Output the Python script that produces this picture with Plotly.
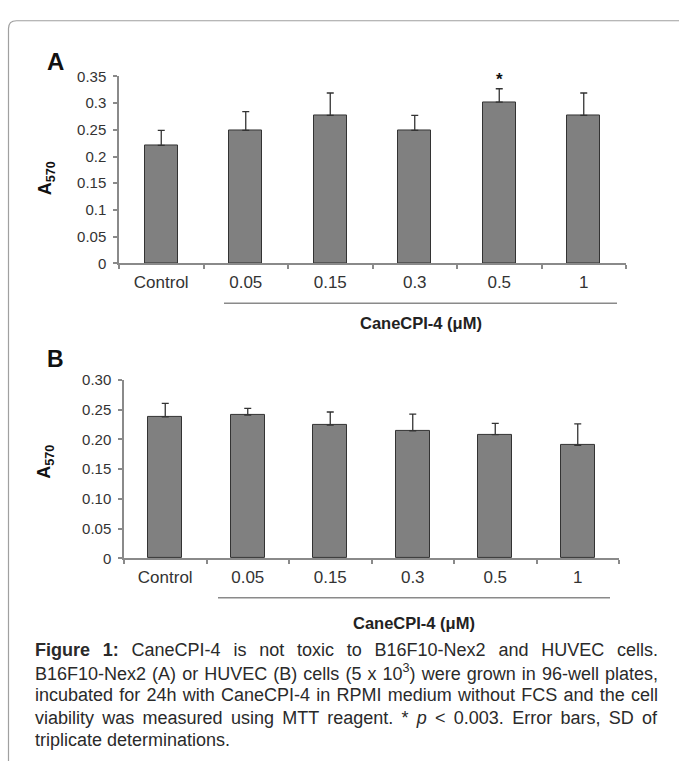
import plotly.graph_objects as go

# ---------------- data ----------------
categories = ["Control", "0.05", "0.15", "0.3", "0.5", "1"]
a_means = [0.221, 0.249, 0.277, 0.249, 0.302, 0.277]
a_sd = [0.028, 0.035, 0.042, 0.028, 0.025, 0.042]
b_means = [0.238, 0.241, 0.224, 0.2145, 0.208, 0.190]
b_sd = [0.0225, 0.011, 0.022, 0.028, 0.019, 0.036]
a_ticks = [0, 0.05, 0.1, 0.15, 0.2, 0.25, 0.3, 0.35]
a_ticktext = ["0", "0.05", "0.1", "0.15", "0.2", "0.25", "0.3", "0.35"]
b_ticks = [0, 0.05, 0.10, 0.15, 0.20, 0.25, 0.30]
b_ticktext = ["0", "0.05", "0.10", "0.15", "0.20", "0.25", "0.30"]
star_label = "*"
star_category = "0.5"
x_group_label = "CaneCPI-4 (\u03bcM)"
caption_lines = [
    "<b>Figure 1:</b> CaneCPI-4 is not toxic to B16F10-Nex2 and HUVEC cells.",
    "B16F10-Nex2 (A) or HUVEC (B) cells (5 x 10<sup>3</sup>) were grown in 96-well plates,",
    "incubated for 24h with CaneCPI-4 in RPMI medium without FCS and the cell",
    "viability was measured using MTT reagent. * <i>p</i> &lt; 0.003. Error bars, SD of",
    "triplicate determinations.",
]

W, H = 679, 769


def px(x):
    return x / W


def py(y):
    return 1 - y / H


FONT = "Liberation Sans, Arial, sans-serif"
BAR_COL = "#808080"
EDGE = "#333333"
AX = "#8a8a8a"
TXT = "#333333"

fig = go.Figure()

fig.add_trace(go.Bar(
    x=categories, y=a_means, width=0.39,
    marker=dict(color=BAR_COL, line=dict(color=EDGE, width=1)),
    error_y=dict(type="data", array=a_sd, arrayminus=[0] * len(a_sd), symmetric=False,
                 color=EDGE, thickness=1.3, width=3.5),
    xaxis="x", yaxis="y", showlegend=False, hoverinfo="skip",
))
fig.add_trace(go.Bar(
    x=categories, y=b_means, width=0.41,
    marker=dict(color=BAR_COL, line=dict(color=EDGE, width=1)),
    error_y=dict(type="data", array=b_sd, arrayminus=[0] * len(b_sd), symmetric=False,
                 color=EDGE, thickness=1.3, width=3.5),
    xaxis="x2", yaxis="y2", showlegend=False, hoverinfo="skip",
))

xcommon = dict(type="category", range=[-0.5, 5.5], showline=True, linecolor=AX, linewidth=1.5,
               ticks="outside", tickson="boundaries", ticklen=4, tickcolor=AX, tickwidth=1.5,
               showgrid=False, zeroline=False, fixedrange=True,
               tickfont=dict(family=FONT, size=17, color=TXT), ticklabelstandoff=3)
ycommon = dict(showline=True, linecolor=AX, linewidth=1.5, ticks="outside", ticklen=4,
               tickcolor=AX, tickwidth=1.5, showgrid=False, zeroline=False, fixedrange=True,
               tickfont=dict(family=FONT, size=15, color=TXT), ticklabelstandoff=4)

fig.update_layout(
    width=W, height=H, margin=dict(l=0, r=0, t=0, b=0),
    paper_bgcolor="white", plot_bgcolor="white", bargap=0,
    xaxis=dict(domain=[px(119), px(626)], anchor="y", **xcommon),
    yaxis=dict(domain=[py(260), py(69)], anchor="x", range=[0, 0.35],
               tickvals=a_ticks, ticktext=a_ticktext, **ycommon),
    xaxis2=dict(domain=[px(124), px(619)], anchor="y2", **xcommon),
    yaxis2=dict(domain=[py(561.7), py(379.3)], anchor="x2", range=[0, 0.30],
                tickvals=b_ticks, ticktext=b_ticktext, **ycommon),
)

C = dict(xanchor="center", yanchor="middle", showarrow=False)
ann = []
ann.append(dict(text="<b>A</b>", x=px(55), y=py(54), xref="paper", yref="paper",
                font=dict(family=FONT, size=24, color="#111"), **C))
ann.append(dict(text="<b>B</b>", x=px(55), y=py(358), xref="paper", yref="paper",
                font=dict(family=FONT, size=23, color="#111"), **C))
for yc in (173, 463):
    ann.append(dict(text="<b>A<sub>570</sub></b>", x=px(46), y=py(yc), xref="paper", yref="paper",
                    textangle=-90, font=dict(family=FONT, size=18, color="#111"), **C))
ann.append(dict(text="<b>" + star_label + "</b>", x=categories.index(star_category), y=0.3445,
                xref="x", yref="y", font=dict(family=FONT, size=17, color="#111"), **C))
ann.append(dict(text="<b>" + x_group_label + "</b>", x=px(421), y=py(321), xref="paper", yref="paper",
                font=dict(family=FONT, size=16.5, color="#222"), **C))
ann.append(dict(text="<b>" + x_group_label + "</b>", x=px(414), y=py(628), xref="paper", yref="paper",
                font=dict(family=FONT, size=16.5, color="#222"), **C))
for i, line in enumerate(caption_lines):
    ann.append(dict(text=line, x=px(33), y=py(656 + i * 23), xref="paper", yref="paper",
                    xanchor="left", yanchor="middle", showarrow=False, align="left",
                    font=dict(family=FONT, size=18, color="#2a2a2a")))
fig.update_layout(annotations=ann)

shapes = [
    dict(type="line", xref="paper", yref="paper", x0=px(224), x1=px(617), y0=py(301), y1=py(301),
         line=dict(color=AX, width=1.5)),
    dict(type="line", xref="paper", yref="paper", x0=px(218), x1=px(610), y0=py(602), y1=py(602),
         line=dict(color=AX, width=1.5)),
    dict(type="path", xref="paper", yref="paper",
         path=f"M {px(8.5)},{py(769)} L {px(8.5)},{py(20)} Q {px(8.5)},{py(12)} {px(16.5)},{py(12)} L {px(679)},{py(12)}",
         line=dict(color="#a0a0a0", width=1.2)),
]
fig.update_layout(shapes=shapes)

post = """
(function(){
  var de = document.documentElement, b = document.body;
  de.style.margin = '0'; de.style.padding = '0'; de.style.overflow = 'hidden';
  b.style.margin = '0'; b.style.padding = '0'; b.style.overflow = 'hidden';
  function justify(){
    var texts = document.querySelectorAll('text.annotation-text');
    texts.forEach(function(t){
      var s = t.textContent || '';
      var isCap = (s.indexOf('Figure 1:') === 0 || s.indexOf('B16F10-Nex2 (A)') === 0 ||
                   s.indexOf('incubated for') === 0 || s.indexOf('viability was') === 0);
      if (!isCap) return;
      t.style.wordSpacing = '0px';
      var n = (s.match(/ /g) || []).length;
      var r = t.getBoundingClientRect();
      var extra = 658 - r.right;
      if (n > 0) t.style.wordSpacing = (extra / n) + 'px';
    });
  }
  try { justify(); } catch(e) {}
  setTimeout(function(){ try { justify(); } catch(e) {} }, 50);
})();
"""
fig.write_html("out.html", post_script=post, config={"displayModeBar": False})
